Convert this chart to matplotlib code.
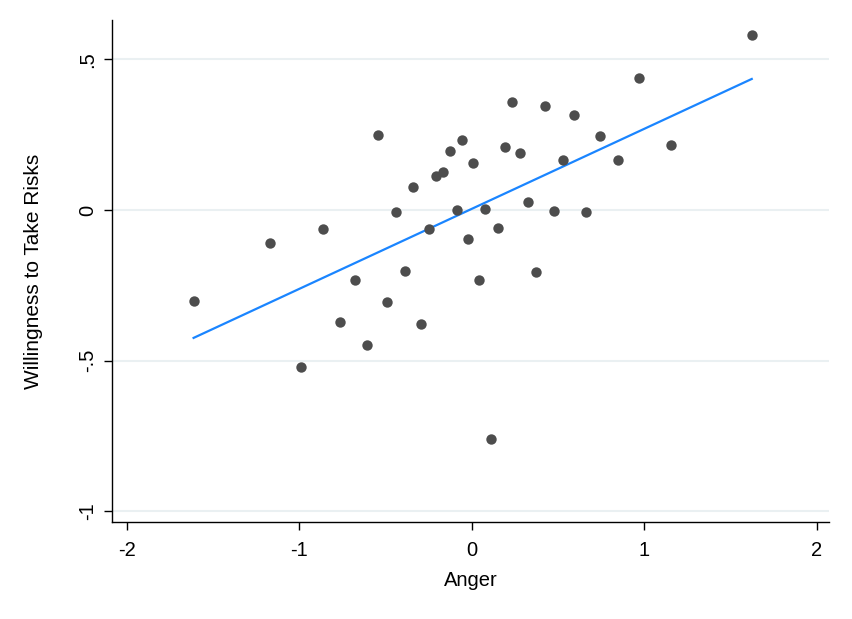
import numpy as np
import matplotlib.pyplot as plt

plt.rcParams['font.family'] = ['Liberation Sans', 'DejaVu Sans']

# scatter values
anger = [-1.613, -1.170, -0.992, -0.863, -0.766, -0.679, -0.609, -0.545,
         -0.493, -0.441, -0.389, -0.342, -0.296, -0.249, -0.209, -0.168,
         -0.128, -0.087, -0.058, -0.023, 0.006, 0.041, 0.075, 0.111,
         0.151, 0.191, 0.232, 0.278, 0.327, 0.371, 0.423, 0.476,
         0.528, 0.592, 0.661, 0.742, 0.847, 0.969, 1.154, 1.624]
risk = [-0.301, -0.108, -0.520, -0.062, -0.370, -0.234, -0.448, 0.250,
        -0.304, -0.006, -0.201, 0.076, -0.377, -0.062, 0.114, 0.125,
        0.196, 0.001, 0.232, -0.095, 0.157, -0.234, 0.003, -0.760,
        -0.059, 0.210, 0.359, 0.190, 0.028, -0.205, 0.346, -0.002,
        0.165, 0.316, -0.006, 0.246, 0.165, 0.436, 0.217, 0.579]

xticks = [-2, -1, 0, 1, 2]
yticks = [-1, -0.5, 0, 0.5]
ylabels = ['-1', '-.5', '0', '.5']

x = np.array(anger)
y = np.array(risk)
b, a = np.polyfit(x, y, 1)
xf = np.linspace(x.min(), x.max(), 100)

fig = plt.figure(figsize=(8.52, 6.19), dpi=100)
ax = fig.add_axes([0.1315, 0.1567, 0.8415, 0.811])

for yt in yticks:
    ax.axhline(yt, color='#eaf0f2', lw=1.5, zorder=0)

ax.scatter(x, y, s=56, color='#4d4d4d', zorder=3, linewidths=0)
ax.plot(xf, a + b * xf, color='#1a85ff', lw=1.6, zorder=2)

ax.set_xlim(-2.086, 2.072)
ax.set_ylim(-1.035, 0.630)
ax.set_xticks(xticks)
ax.set_xticklabels([str(t) for t in xticks])
ax.set_yticks(yticks)
ax.set_yticklabels(ylabels, rotation=90, va='center')

for s in ['top', 'right']:
    ax.spines[s].set_visible(False)
for s in ['left', 'bottom']:
    ax.spines[s].set_linewidth(1.0)
ax.tick_params(length=5.5, width=1, labelsize=14.5)
ax.tick_params(axis='x', pad=8)
ax.tick_params(axis='y', pad=5)

ax.set_xlabel('Anger', fontsize=14.5, va='center')
ax.xaxis.set_label_coords(0.5, -0.1175)
ax.set_ylabel('Willingness to Take Risks', fontsize=15, va='center')
ax.yaxis.set_label_coords(-0.110, 0.5)

fig.savefig('out.png', dpi=100)
